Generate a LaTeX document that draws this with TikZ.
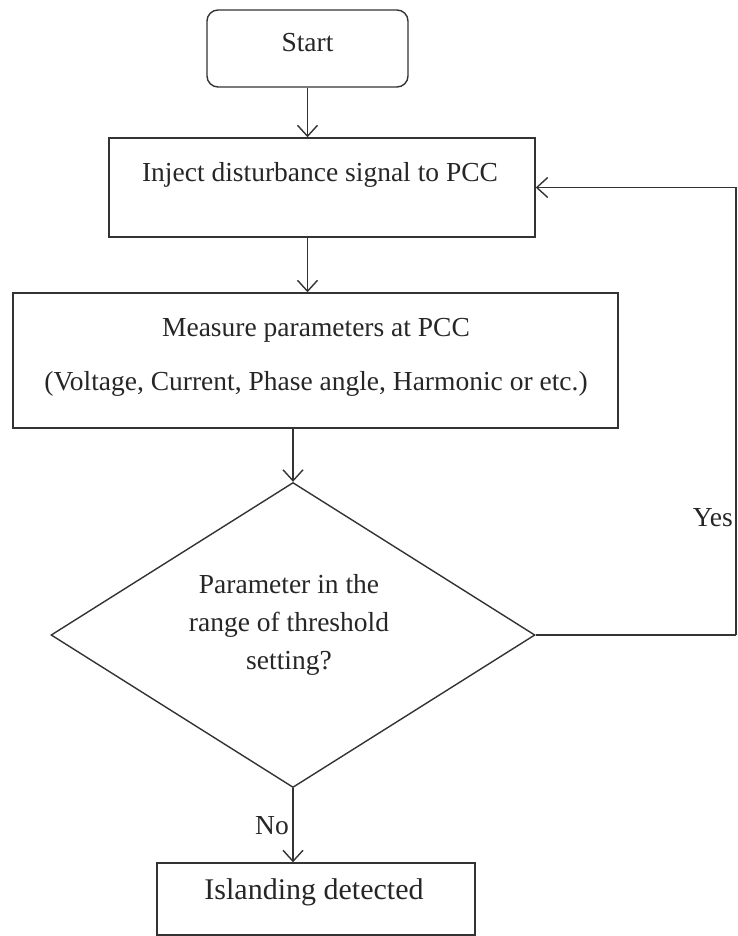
\documentclass[tikz,border=0pt]{standalone}
\usepackage{fontspec}
\setmainfont{Liberation Serif}
\usetikzlibrary{shapes.geometric,arrows.meta}
\begin{document}
\begin{tikzpicture}[x=1pt,y=-1pt,
  boxline/.style={draw=black!80,line width=1.4pt},
  box/.style={boxline,rectangle,inner sep=0pt},
  lbl/.style={font=\fontsize{27.5}{38}\selectfont,text=black!85,inner sep=0pt},
  arr/.style={draw=black!80,line width=1.4pt,-{Straight Barb[length=11pt,width=20pt,line width=1.4pt]}},
  conn/.style={draw=black!80,line width=1.4pt}]
\useasboundingbox (0,0) rectangle (737,936);
% boxes
\node[box,rounded corners=11pt,minimum width=201pt,minimum height=77pt] (start) at (307.5,48.5) {};
\node[lbl] (starttext) at (307.5,43) {Start};
\node[box,minimum width=426pt,minimum height=99pt] (inject) at (322,187.5) {};
\node[lbl] (injecttext) at (320,175) {Inject disturbance signal to PCC};
\node[box,minimum width=605pt,minimum height=135pt] (measure) at (315.5,360.5) {};
\node[lbl] (meas1) at (316,330) {Measure parameters at PCC};
\node[lbl] (meas2) at (316,384) {(Voltage, Current, Phase angle, Harmonic or etc.)};
\node[boxline,shape=diamond,inner sep=0pt,minimum width=484pt,minimum height=305pt] (dec) at (293,635) {};
\node[lbl,align=center] (dectext) at (289,625) {Parameter in the\\range of threshold\\setting?};
\node[box,minimum width=318pt,minimum height=72pt] (island) at (316,899) {};
\node[lbl,font=\fontsize{30}{38}\selectfont] (islandtext) at (314,892) {Islanding detected};
% connectors
\draw[arr] (start.south) -- (start.south |- inject.north);
\draw[arr] (start.south |- inject.south) -- (start.south |- measure.north);
\draw[arr] (dec.north |- measure.south) -- (dec.north);
\draw[arr] (dec.south) -- (dec.south |- island.north);
\coordinate (loop) at (736,635);
\draw[conn] (dec.east) -- (loop);
\draw[arr] (loop) |- (inject.east);
% labels
\node[lbl,anchor=east] (no) at (289,826) {No};
\node[lbl,anchor=east] (yes) at (733,518) {Yes};
\end{tikzpicture}
\end{document}
